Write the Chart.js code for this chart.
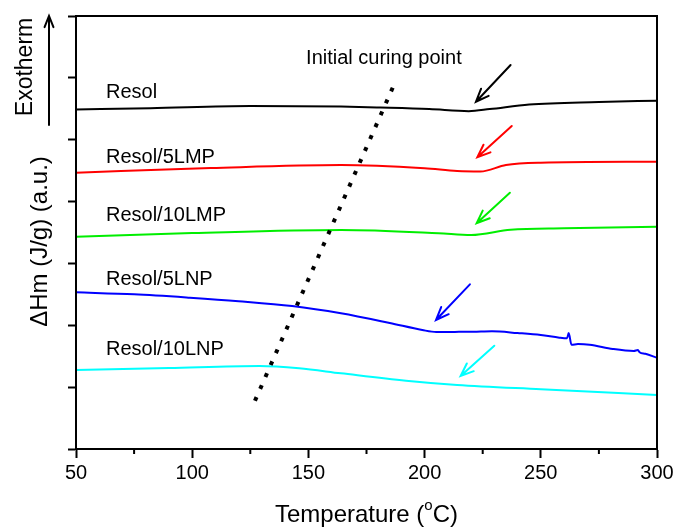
<!DOCTYPE html>
<html>
<head>
<meta charset="utf-8">
<script src="https://cdn.jsdelivr.net/npm/chart.js@4.4.1/dist/chart.umd.min.js"></script>
<style>
  html, body { margin: 0; padding: 0; background: #fff; }
</style>
</head>
<body>
<canvas id="myChart" width="678" height="529"></canvas>
<script>
// tick labels on the temperature axis
var xTicks = [50, 100, 150, 200, 250, 300];
var seriesNames = ['Resol', 'Resol/5LMP', 'Resol/10LMP', 'Resol/5LNP', 'Resol/10LNP'];

// DSC traces (y in arbitrary units, one unit = one tick)
var resolT = [50, 82, 125, 164, 181, 202, 219, 228, 245, 275, 300];
var resolY = [5.49, 5.51, 5.545, 5.535, 5.52, 5.496, 5.462, 5.495, 5.57, 5.61, 5.63];

var lmp5T = [50, 108, 164, 200, 214, 224, 235, 250, 300];
var lmp5Y = [4.467, 4.542, 4.591, 4.538, 4.494, 4.486, 4.591, 4.628, 4.644];

var lmp10T = [50, 100, 164, 206, 220, 237, 260, 300];
var lmp10Y = [3.432, 3.49, 3.54, 3.488, 3.459, 3.545, 3.57, 3.594];

var lnp5T = [50, 75, 99, 120, 143, 164, 185, 199, 205, 213, 221, 229, 240, 250, 258, 261.3, 262, 263.2, 266, 271, 281, 290, 291.8, 292.5, 295, 300];
var lnp5Y = [2.533, 2.5, 2.446, 2.39, 2.312, 2.194, 2.037, 1.924, 1.891, 1.893, 1.896, 1.903, 1.875, 1.843, 1.8, 1.79, 1.875, 1.685, 1.697, 1.686, 1.617, 1.585, 1.6, 1.565, 1.54, 1.476];

var lnp10T = [50, 90, 129, 146, 164, 192, 214, 250, 300];
var lnp10Y = [1.277, 1.31, 1.342, 1.305, 1.224, 1.104, 1.035, 0.965, 0.873];

// "initial curing point" dotted guide
var curingT = [127, 186.5];
var curingY = [0.78, 5.86];

var colors = ['#000000', '#ff0000', '#00ee00', '#0000ff', '#00ffff'];

function pts(t, y) {
    return t.map(function (v, i) { return { x: v, y: y[i] }; });
}

var FONT = 'Liberation Sans, Arial, sans-serif';

var notes = {
    labels: [
        { text: seriesNames[0], x: 62.9, y: 5.771 },
        { text: seriesNames[1], x: 62.9, y: 4.72 },
        { text: seriesNames[2], x: 62.9, y: 3.775 },
        { text: seriesNames[3], x: 62.9, y: 2.74 },
        { text: seriesNames[4], x: 62.9, y: 1.608 },
        { text: 'Initial curing point', x: 149, y: 6.313 }
    ],
    arrows: [
        { color: colors[0], from: [237.0, 6.208], to: [222.1, 5.614] },
        { color: colors[1], from: [237.5, 5.221], to: [222.7, 4.716] },
        { color: colors[2], from: [236.7, 4.143], to: [222.4, 3.649] },
        { color: colors[3], from: [219.5, 2.662], to: [204.9, 2.085] },
        { color: colors[4], from: [230.0, 1.670], to: [215.5, 1.180] }
    ]
};

function arrow(ctx, x1, y1, x2, y2, color, head) {
    var a = Math.atan2(y2 - y1, x2 - x1);
    ctx.save();
    ctx.strokeStyle = color;
    ctx.lineWidth = 2;
    ctx.lineCap = 'round';
    ctx.beginPath();
    ctx.moveTo(x1, y1);
    ctx.lineTo(x2, y2);
    ctx.moveTo(x2 - head * Math.cos(a - 0.38), y2 - head * Math.sin(a - 0.38));
    ctx.lineTo(x2, y2);
    ctx.lineTo(x2 - head * Math.cos(a + 0.38), y2 - head * Math.sin(a + 0.38));
    ctx.stroke();
    ctx.restore();
}

var decor = {
    id: 'decor',
    afterDraw: function (chart) {
        var ctx = chart.ctx, area = chart.chartArea;
        var sx = chart.scales.x, sy = chart.scales.y;
        ctx.save();
        // frame
        ctx.strokeStyle = '#000';
        ctx.lineWidth = 2;
        ctx.strokeRect(area.left, area.top, area.right - area.left, area.bottom - area.top);
        // minor ticks
        ctx.beginPath();
        for (var v = 75; v < 300; v += 50) {
            var px = sx.getPixelForValue(v);
            ctx.moveTo(px, area.bottom);
            ctx.lineTo(px, area.bottom + 5);
        }
        ctx.stroke();

        // curve labels
        ctx.fillStyle = '#000';
        ctx.font = '20px ' + FONT;
        ctx.textAlign = 'left';
        ctx.textBaseline = 'middle';
        notes.labels.forEach(function (l) {
            ctx.fillText(l.text, sx.getPixelForValue(l.x), sy.getPixelForValue(l.y));
        });

        notes.arrows.forEach(function (a) {
            arrow(ctx, sx.getPixelForValue(a.from[0]), sy.getPixelForValue(a.from[1]),
                sx.getPixelForValue(a.to[0]), sy.getPixelForValue(a.to[1]), a.color, 14);
        });

        // x title with superscript
        ctx.font = '24px ' + FONT;
        var p1 = 'Temperature (', p3 = 'C)';
        var w1 = ctx.measureText(p1).width, w3 = ctx.measureText(p3).width;
        ctx.font = '15px ' + FONT;
        var w2 = ctx.measureText('o').width;
        var cx = (area.left + area.right) / 2;
        var x0 = cx - (w1 + w2 + w3) / 2, ty = area.bottom + 66;
        ctx.textBaseline = 'middle';
        ctx.font = '24px ' + FONT;
        ctx.fillText(p1, x0, ty);
        ctx.font = '15px ' + FONT;
        ctx.fillText('o', x0 + w1, ty - 9);
        ctx.font = '24px ' + FONT;
        ctx.fillText(p3, x0 + w1 + w2, ty);

        // y title and exotherm marker
        ctx.save();
        ctx.translate(area.left - 36, (area.top + area.bottom) / 2 + 9);
        ctx.rotate(-Math.PI / 2);
        ctx.textAlign = 'center';
        ctx.font = '24px ' + FONT;
        ctx.fillText('\u0394Hm (J/g) (a.u.)', 0, 0);
        ctx.restore();

        ctx.save();
        ctx.translate(area.left - 50, area.top + 51);
        ctx.rotate(-Math.PI / 2);
        ctx.textAlign = 'center';
        ctx.font = '23px ' + FONT;
        ctx.fillText('Exotherm', 0, 0);
        ctx.restore();

        arrow(ctx, area.left - 27, area.top + 109, area.left - 27, area.top, '#000', 12);
        ctx.restore();
    }
};

var ctx = document.getElementById("myChart").getContext('2d');
var series = [
    [resolT, resolY], [lmp5T, lmp5Y], [lmp10T, lmp10Y], [lnp5T, lnp5Y], [lnp10T, lnp10Y]
];
var datasets = [{
    label: 'curing',
    data: pts(curingT, curingY),
    borderColor: '#000',
    borderWidth: 4,
    borderDash: [4, 9],
    borderCapStyle: 'butt',
    pointRadius: 0
}];
series.forEach(function (s, i) {
    datasets.push({
        label: seriesNames[i],
        data: pts(s[0], s[1]),
        borderColor: colors[i],
        borderWidth: 2,
        pointRadius: 0,
        cubicInterpolationMode: 'monotone'
    });
});

var myChart = new Chart(ctx, {
    type: 'line',
    data: { datasets: datasets },
    options: {
        responsive: false,
        animation: false,
        layout: { padding: { top: 16, right: 21, left: 0, bottom: 0 } },
        plugins: { legend: { display: false }, tooltip: { enabled: false } },
        scales: {
            x: {
                type: 'linear', min: 50, max: 300,
                afterBuildTicks: function (s) { s.ticks = xTicks.map(function (v) { return { value: v }; }); },
                afterFit: function (s) { s.height = 80; },
                grid: { drawOnChartArea: false, tickLength: 9, tickWidth: 2, tickColor: '#000' },
                border: { color: '#000', width: 2 },
                ticks: { color: '#000', font: { family: FONT, size: 20 }, padding: 3, maxRotation: 0, autoSkip: false }
            },
            y: {
                min: 0, max: 7,
                afterFit: function (s) { s.width = 76; },
                grid: { drawOnChartArea: false, tickLength: 8, tickWidth: 2, tickColor: '#000' },
                border: { color: '#000', width: 2 },
                ticks: { display: false, stepSize: 1 }
            }
        }
    },
    plugins: [decor]
});
</script>
</body>
</html>
